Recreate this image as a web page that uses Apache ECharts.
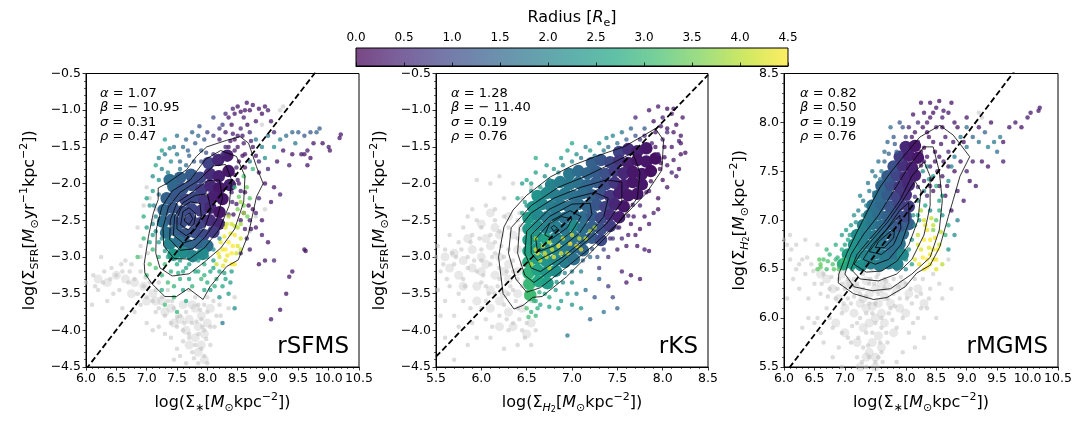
<!DOCTYPE html>
<html>
<head>
<meta charset="utf-8">
<script src="https://cdn.jsdelivr.net/npm/echarts@6/dist/echarts.min.js"></script>
<style>
html, body { margin: 0; padding: 0; background: #fff; }
#chart { width: 1080px; height: 432px; }
</style>
</head>
<body>
<div id="chart"></div>
<script>
// 拟合参数
var fitAlpha = [1.07, 1.28, 0.82];
var fitBeta = [-10.95, -11.40, 0.50];
var fitSigma = [0.31, 0.19, 0.19];
var fitRho = [0.47, 0.76, 0.76];
var panelNames = ['rSFMS', 'rKS', 'rMGMS'];
var xRange = [[6.0, 10.5], [5.5, 8.5], [6.0, 10.5]];
var yRange = [[-4.5, -0.5], [-4.5, -0.5], [5.5, 8.5]];
var radiusRange = [0, 4.5];

// rSFMS  [x, y, radius]
var sfmsCore = [
[8.02,-1.72,0.9],[8.18,-1.68,0.5],[8.33,-1.62,0.4],
[7.73,-1.88,1.3],[7.88,-1.92,1.0],[8.04,-1.87,0.6],[8.19,-1.9,0.4],[8.35,-1.83,0.3],[7.55,-1.92,1.4],[7.38,-1.95,1.6],
[7.44,-2.04,1.5],[7.59,-2.07,1.2],[7.74,-2.02,1.1],[7.9,-2.08,0.8],[8.05,-2.03,0.5],[8.2,-2.06,0.3],[8.37,-2.02,0.4],
[7.33,-2.2,1.4],[7.48,-2.17,1.2],[7.64,-2.22,1.0],[7.79,-2.19,1.0],[7.95,-2.23,0.7],[8.1,-2.18,0.4],[8.25,-2.21,0.3],
[7.28,-2.36,1.5],[7.43,-2.33,1.2],[7.58,-2.38,1.1],[7.74,-2.35,1.0],[7.9,-2.37,0.8],[8.05,-2.33,0.5],[8.2,-2.39,0.3],
[7.27,-2.52,1.6],[7.42,-2.49,1.3],[7.57,-2.53,1.1],[7.73,-2.5,1.0],[7.88,-2.54,0.9],[8.04,-2.5,0.6],[8.19,-2.55,0.5],
[7.32,-2.67,1.7],[7.48,-2.64,1.4],[7.63,-2.69,1.2],[7.79,-2.66,1.1],[7.94,-2.7,1.0],[8.1,-2.66,0.8],
[7.38,-2.82,2.0],[7.53,-2.79,1.7],[7.69,-2.84,1.5],[7.85,-2.81,1.4],[8.0,-2.85,1.6],
[7.44,-2.97,2.4],[7.6,-2.94,2.2],[7.76,-2.99,2.0],[7.92,-2.96,2.1]
];
var sfmsPts = [
[8.45,-1.55,0.3],[8.48,-1.78,0.4],[8.41,-2.25,0.5],[8.35,-2.42,0.6],
[7.25,-1.55,2.6],[7.4,-1.7,2.2],[7.5,-1.6,1.9],[7.6,-1.5,1.6],[7.7,-1.62,1.5],[7.8,-1.45,1.3],[7.9,-1.55,1.4],[7.35,-1.85,2.0],[7.2,-1.95,2.3],[7.1,-2.1,2.5],
[7.05,-2.3,2.4],[7.15,-2.45,2.0],[7.0,-2.6,2.6],[7.55,-1.8,1.8],[7.65,-1.75,1.6],[7.95,-1.4,1.2],[8.0,-1.3,0.9],[7.85,-1.35,1.6],[7.3,-1.4,2.4],[7.15,-1.75,2.7],
[8.2,-1.4,0.4],[8.3,-1.3,0.3],[8.4,-1.2,0.2],[8.45,-1.05,0.3],[8.5,-0.95,0.2],[8.6,-1.1,0.4],[8.65,-0.9,0.3],[8.7,-1.0,0.2],[8.55,-1.25,0.5],[8.35,-1.5,0.3],
[8.45,-1.4,0.2],[8.6,-1.45,0.4],[8.7,-1.3,0.6],[8.8,-1.15,0.3],[8.9,-1.05,0.2],[9.0,-1.0,0.4],[9.05,-1.15,0.3],[9.1,-1.3,0.5],[8.25,-1.2,0.8],[8.1,-1.1,1.0],
[8.95,-0.95,0.3],[8.38,-1.62,0.3],[8.52,-1.7,0.2],[8.62,-1.6,0.3],[8.42,-1.32,0.4],[8.75,-1.5,0.3],
[8.8,-1.4,1.8],[8.9,-1.5,2.0],[9.0,-1.35,1.7],[9.1,-1.5,2.2],[9.2,-1.4,1.9],[9.3,-1.35,1.6],[9.4,-1.3,1.5],[9.5,-1.3,1.4],[9.6,-1.35,1.3],[9.7,-1.3,1.2],
[9.8,-1.3,1.4],[9.85,-1.25,1.3],[9.25,-1.55,0.3],[9.4,-1.6,0.2],[9.55,-1.6,0.3],[9.35,-1.75,0.4],[9.15,-1.7,0.3],[9.0,-1.8,0.5],[8.85,-1.85,0.3],[8.95,-2.0,0.2],
[9.1,-2.05,0.3],[9.2,-2.15,0.4],[9.05,-2.25,0.3],[8.85,-2.2,0.5],[9.6,-1.6,0.3],[9.45,-1.45,1.8],[9.65,-1.55,0.4],[9.9,-1.45,0.2],[10.0,-1.5,0.3],[10.02,-1.55,0.3],
[10.2,-1.33,0.3],[10.18,-1.38,0.3],[9.6,-2.9,0.2],[9.62,-2.92,0.2],[9.4,-3.2,0.3],[9.35,-3.27,0.3],[9.3,-3.5,0.2],[9.2,-3.72,0.2],[9.05,-3.85,0.3],[9.65,-1.75,0.3],
[9.75,-1.45,0.3],[9.7,-1.65,0.2],[8.7,-1.7,1.9],[8.95,-1.65,2.3],[8.5,-1.95,0.3],[8.55,-2.1,0.4],
[8.6,-2.4,0.3],[8.7,-2.5,0.4],[8.75,-2.35,0.2],[8.8,-2.6,0.3],[8.9,-2.7,0.4],[8.65,-2.75,0.5],[8.7,-2.9,0.3],[9.0,-2.8,0.2],[8.95,-3.05,0.3],[8.85,-3.1,0.2],
[8.55,-2.95,0.6],[9.1,-3.05,0.5],[8.8,-2.4,0.4],[8.9,-2.5,0.3],
[8.5,-1.5,0.3],[8.58,-1.62,0.2],[8.62,-1.78,0.3],[8.45,-1.88,0.2],[8.52,-2.0,0.3],[8.4,-2.12,0.4],[8.62,-2.12,0.2],[8.48,-2.28,0.3],[8.68,-2.3,0.2],[8.55,-2.5,0.3],
[8.43,-2.42,0.2],[8.72,-2.62,0.3],[8.62,-2.62,0.4],[8.5,-1.35,0.4],[8.38,-1.42,0.3],[8.3,-1.5,0.5],[8.25,-1.6,0.6],[8.58,-1.35,0.3],[8.66,-1.2,0.2],[8.72,-1.42,0.4],
[8.8,-1.62,0.3],[8.85,-1.7,0.5],[8.35,-1.1,0.3],[8.55,-1.02,0.2],[8.42,-0.98,0.4],[8.75,-0.93,0.3],[8.85,-0.98,0.2],[8.62,-1.0,0.3],[8.3,-1.05,0.5],[8.2,-1.25,0.7],
[7.2,-1.65,2.0],[7.3,-1.6,1.8],[7.45,-1.5,1.7],[7.55,-1.7,1.5],[7.68,-1.55,1.4],[7.78,-1.7,1.3],[7.9,-1.7,1.1],[7.1,-1.9,2.2],[7.25,-1.8,2.0],[7.2,-2.15,1.8],
[7.12,-2.3,2.0],[7.1,-2.55,2.1],[7.15,-2.65,2.2],[7.2,-2.55,1.9],[7.05,-2.8,2.6],[7.25,-2.75,2.1],[7.3,-2.92,2.4],[7.35,-3.0,2.6],[7.55,-3.05,2.5],[7.7,-3.0,2.3],
[7.85,-3.05,2.4],[8.0,-3.0,2.3],[7.65,-1.4,1.5],[7.5,-1.35,1.8],[7.38,-1.52,2.0],[7.75,-1.3,1.4],[7.87,-1.22,1.2],[7.98,-1.58,1.1],[8.1,-1.6,0.8],[8.1,-1.35,0.8],
[8.6,-1.9,3.2],[8.65,-2.05,3.5],[8.7,-2.2,3.3],[8.55,-2.25,3.8],[8.75,-1.8,3.0],[8.6,-2.4,3.9],[8.5,-2.35,3.6],
[8.45,-2.05,3.0],[8.52,-2.18,3.4],[8.6,-2.3,3.6],[8.66,-2.45,3.5],[8.55,-2.55,3.8],
[8.3,-2.6,4.3],[8.4,-2.55,4.2],[8.45,-2.7,4.4],[8.35,-2.8,4.5],[8.5,-2.85,4.3],[8.25,-2.9,4.4],[8.4,-2.95,4.5],[8.3,-3.05,4.3],[8.2,-3.0,4.2],[8.5,-2.6,4.0],
[8.45,-3.1,4.4],[8.15,-3.1,4.1],[8.55,-2.75,4.2],[8.35,-2.45,4.0],[8.28,-2.72,4.4],[8.42,-2.85,4.5],[8.33,-2.98,4.4],
[8.22,-2.8,4.3],[8.3,-2.9,4.5],[8.38,-2.68,4.4],[8.48,-2.95,4.2],[8.26,-3.12,4.3],[8.4,-3.1,4.5],[8.55,-2.9,4.1],[8.18,-2.95,4.4],[8.32,-2.55,4.2],[8.45,-2.58,4.1],
[7.95,-3.1,2.8],[8.05,-3.2,2.7],[8.1,-3.05,2.5],[8.15,-3.3,2.9],[8.2,-3.2,2.6],[8.0,-3.35,2.8],[7.9,-3.3,3.0],[8.25,-3.4,2.7],[8.05,-3.45,2.5],[8.3,-3.3,2.6],
[8.35,-3.5,2.4],[8.2,-3.55,2.3],[8.4,-3.2,2.5],[8.1,-2.9,2.2],[8.2,-2.75,2.0],
[7.85,-3.2,2.8],[7.95,-3.25,2.9],[8.1,-3.15,2.6],[8.12,-3.4,2.8],[7.95,-3.45,2.7],[8.28,-3.22,2.6],[8.38,-3.35,2.5],[7.7,-3.3,2.7],[7.65,-3.15,2.6],[7.52,-3.22,2.8],
[7.1,-2.9,3.0],[7.2,-3.0,2.9],[7.3,-3.1,3.1],[7.15,-3.15,3.2],[7.25,-3.25,3.0],[7.4,-3.2,2.8],[7.5,-3.1,2.7],[7.6,-3.2,2.6],[7.35,-3.35,3.1],[7.45,-3.4,2.9],
[7.55,-3.3,2.8],[7.7,-3.1,2.5],[7.8,-3.2,2.7],[7.05,-3.1,3.3],[7.0,-3.25,3.1],[7.25,-3.45,2.8],[7.6,-3.45,2.6],[7.75,-3.4,2.9],[6.95,-2.75,2.9],[7.1,-2.7,2.5],
[6.85,-3.0,3.2],[7.45,-3.55,3.0],[7.5,-3.75,2.9],[7.3,-3.65,3.1],[7.65,-3.6,2.7],[7.0,-2.2,2.6],[6.95,-2.45,2.8],[8.45,-3.7,2.2],[8.25,-3.9,1.8],[7.2,-2.8,2.4]
];
var sfmsGray = [
[6.0,-3.35],[6.15,-3.4],[6.3,-3.2],[6.4,-3.3],[6.5,-3.25],[6.55,-3.45],[6.6,-3.2],[6.7,-3.35],[6.75,-3.1],[6.8,-3.3],
[6.85,-3.5],[6.9,-3.2],[6.95,-3.4],[7.0,-3.55],[7.05,-3.35],[7.1,-3.6],[7.15,-3.45],[7.2,-3.7],[7.25,-3.55],[7.3,-3.8],
[7.35,-3.6],[7.4,-3.9],[7.45,-3.7],[7.5,-3.95],[7.55,-3.8],[7.6,-4.0],[7.65,-3.75],[7.7,-4.1],[7.75,-3.9],[7.8,-4.2],
[7.85,-3.65],[7.9,-3.85],[7.95,-4.0],[8.0,-3.75],[8.05,-3.95],[7.85,-4.05],[7.9,-4.25],[7.95,-4.35],[8.0,-4.45],[7.75,-4.3],
[7.6,-4.15],[7.5,-4.25],[7.3,-4.05],[7.2,-3.95],[8.1,-3.6],[8.15,-3.8],[8.0,-3.55],[7.8,-3.55],[7.7,-3.45],[7.05,-2.2],
[7.0,-2.05],[6.95,-2.3],[7.1,-2.5],[7.15,-2.35],[6.85,-2.6],[6.9,-2.85],[6.65,-3.05],[6.45,-3.5],[6.35,-3.6],[6.2,-3.45],
[6.1,-3.65],[6.25,-3.0],[6.6,-3.7],[6.8,-3.75],[7.0,-3.9],[6.9,-3.65],[7.1,-4.0],[8.35,-3.7],[8.45,-3.55],[8.2,-3.65],
[9.2,-1.0],[9.25,-0.95],[8.9,-1.2],[8.95,-2.35],[8.8,-2.45],[8.7,-2.65],[7.85,-4.45],[7.65,-4.45],[8.05,-4.2],[7.45,-4.4],
[7.88,-3.72],[7.95,-3.65],[7.82,-3.88],[7.92,-3.95],[7.98,-4.12],[7.7,-4.05],[7.62,-3.9],[7.5,-3.82],[7.42,-3.6],[7.35,-3.45],
[7.2,-3.35],[6.98,-3.28],[6.72,-3.2],[6.58,-3.1],[6.42,-3.15],[6.28,-3.35],[6.12,-3.25],[6.9,-3.0],[7.02,-2.95],[8.12,-3.95],
[8.22,-3.8],[7.78,-4.38],[7.55,-4.35],[7.4,-4.1],[7.15,-3.75]
];
var sfmsGrayCore = [
[7.8,-3.7],[7.9,-3.8],[7.85,-3.95],[7.95,-4.05],[7.8,-4.1],[7.9,-4.2],[7.7,-3.85],[8.0,-3.9],[7.75,-3.65],
[6.5,-3.25],[6.65,-3.3],[6.8,-3.35],[6.95,-3.4],[7.1,-3.5],[7.25,-3.6],[7.4,-3.7],[7.55,-3.85],[7.65,-4.0],
[7.85,-4.3],[7.7,-4.2],[7.6,-3.65],[8.05,-3.7],[7.45,-3.9],[7.3,-3.75],[7.15,-3.6],[6.35,-3.35],[6.2,-3.3],[7.95,-4.4],
[6.75,-3.5],[7.0,-3.6]
];
var sfmsContours = [
[[6.96,-3.09],[6.97,-3.22],[7.08,-3.36],[7.3,-3.54],[7.49,-3.54],[7.69,-3.43],[7.93,-3.58],[8.04,-3.41],[8.32,-3.13],[8.51,-3.04],[8.68,-2.68],[8.81,-2.18],[8.92,-2.0],[8.81,-1.77],[8.68,-1.45],[8.54,-1.36],[8.32,-1.41],[7.99,-1.5],[7.82,-1.63],[7.66,-1.81],[7.33,-2.0],[7.19,-2.06],[7.19,-2.22],[7.11,-2.4],[7.03,-2.72]],
[[7.15,-2.95],[7.22,-3.15],[7.42,-3.26],[7.7,-3.23],[7.95,-3.07],[8.22,-2.88],[8.45,-2.62],[8.6,-2.25],[8.62,-1.9],[8.48,-1.63],[8.22,-1.55],[7.97,-1.67],[7.72,-1.95],[7.42,-2.1],[7.25,-2.32],[7.16,-2.62]],
[[7.28,-2.85],[7.45,-3.02],[7.7,-3.03],[7.96,-2.87],[8.2,-2.62],[8.36,-2.3],[8.4,-1.95],[8.3,-1.74],[8.1,-1.76],[7.85,-1.96],[7.55,-2.12],[7.36,-2.32],[7.27,-2.6]],
[[7.38,-2.76],[7.55,-2.91],[7.76,-2.89],[7.96,-2.73],[8.15,-2.5],[8.25,-2.2],[8.2,-1.95],[8.0,-1.96],[7.75,-2.12],[7.5,-2.26],[7.39,-2.5]],
[[7.44,-2.7],[7.6,-2.81],[7.8,-2.76],[7.96,-2.6],[8.06,-2.35],[8.0,-2.14],[7.8,-2.16],[7.6,-2.26],[7.46,-2.45]],
[[7.5,-2.62],[7.65,-2.71],[7.8,-2.63],[7.9,-2.45],[7.88,-2.27],[7.72,-2.25],[7.57,-2.33],[7.5,-2.47]],
[[7.56,-2.56],[7.68,-2.63],[7.78,-2.55],[7.81,-2.41],[7.7,-2.33],[7.6,-2.38]],
[[7.62,-2.51],[7.7,-2.56],[7.76,-2.48],[7.71,-2.4],[7.64,-2.44]]
];

// rKS
var ksCore = [
[7.52,-1.57,0.9],[7.62,-1.53,0.6],[7.72,-1.56,0.4],[7.82,-1.52,0.3],
[7.22,-1.72,1.4],[7.32,-1.68,1.2],[7.42,-1.71,1.0],[7.52,-1.69,0.7],[7.62,-1.72,0.4],[7.72,-1.68,0.3],[7.82,-1.7,0.3],[7.92,-1.66,0.2],
[6.97,-1.87,1.8],[7.07,-1.83,1.6],[7.17,-1.86,1.5],[7.27,-1.84,1.3],[7.37,-1.87,1.1],[7.47,-1.83,0.8],[7.57,-1.86,0.5],[7.67,-1.84,0.3],[7.77,-1.87,0.3],[7.87,-1.83,0.2],
[6.77,-2.02,2.0],[6.87,-1.98,1.9],[6.97,-2.01,1.8],[7.07,-1.99,1.7],[7.17,-2.02,1.5],[7.27,-1.98,1.3],[7.37,-2.01,1.0],[7.47,-1.99,0.7],[7.57,-2.02,0.4],[7.67,-1.98,0.3],[7.77,-2.01,0.3],
[6.62,-2.17,2.3],[6.72,-2.13,2.1],[6.82,-2.16,1.9],[6.92,-2.14,1.8],[7.02,-2.17,1.7],[7.12,-2.13,1.6],[7.22,-2.16,1.4],[7.32,-2.14,1.1],[7.42,-2.17,0.7],[7.52,-2.13,0.4],[7.62,-2.16,0.3],[7.72,-2.14,0.3],
[6.57,-2.32,2.3],[6.67,-2.28,2.1],[6.77,-2.31,1.9],[6.87,-2.29,1.8],[6.97,-2.32,1.7],[7.07,-2.28,1.6],[7.17,-2.31,1.5],[7.27,-2.29,1.2],[7.37,-2.32,0.9],[7.47,-2.28,0.5],[7.57,-2.31,0.3],
[6.52,-2.47,2.4],[6.62,-2.43,2.1],[6.72,-2.46,1.9],[6.82,-2.44,1.8],[6.92,-2.47,1.7],[7.02,-2.43,1.7],[7.12,-2.46,1.6],[7.22,-2.44,1.3],[7.32,-2.47,1.0],[7.42,-2.43,0.6],[7.52,-2.46,0.4],
[6.52,-2.62,2.4],[6.62,-2.58,2.2],[6.72,-2.61,2.0],[6.82,-2.59,1.9],[6.92,-2.62,1.8],[7.02,-2.58,2.2],[7.12,-2.61,1.7],[7.22,-2.59,1.4],[7.32,-2.62,1.1],[7.42,-2.58,0.8],
[6.52,-2.77,2.5],[6.62,-2.73,2.3],[6.72,-2.76,2.6],[6.82,-2.74,2.0],[6.92,-2.77,1.9],[7.02,-2.73,1.8],[7.12,-2.76,1.6],[7.22,-2.74,1.3],[7.32,-2.77,1.0],
[6.52,-2.92,2.6],[6.62,-2.88,2.4],[6.72,-2.91,2.2],[6.82,-2.89,2.1],[6.92,-2.92,1.9],[7.02,-2.88,1.7],[7.12,-2.91,1.5],
[6.52,-3.07,2.8],[6.62,-3.03,2.5],[6.72,-3.06,2.3],[6.82,-3.04,2.1],[6.92,-3.07,1.9],[7.02,-3.03,1.7],
[6.52,-3.22,2.9],[6.62,-3.18,2.6],[6.72,-3.21,2.4],[6.82,-3.19,2.2],
[6.53,-3.37,3.0],[6.63,-3.33,2.7],[6.73,-3.36,2.5],
[6.54,-3.52,3.1]
];
var ksPts = [
[7.92,-1.5,0.2],[8.02,-1.64,0.2],[7.97,-1.8,0.2],[7.87,-1.97,0.2],[7.82,-2.12,0.2],[7.67,-2.29,0.3],[7.62,-2.44,0.3],[7.52,-2.6,0.4],[7.42,-2.75,0.6],[7.22,-2.89,1.3],
[7.12,-3.05,1.5],[6.92,-3.22,2.0],[6.83,-3.34,2.3],[6.64,-3.48,2.8],
[6.6,-2.9,4.3],[6.7,-2.95,4.4],[6.75,-2.8,4.2],[6.85,-2.85,4.5],[6.9,-2.75,4.3],[7.0,-2.7,4.2],[7.05,-2.85,4.4],[7.15,-2.75,4.1],[6.65,-3.05,4.3],[6.8,-3.0,4.5],
[6.95,-2.95,4.2],[7.2,-2.65,4.0],[6.6,-2.75,4.0],[6.55,-3.1,4.2],[6.75,-3.15,4.1],[7.1,-2.9,4.3],[7.25,-2.6,3.9],
[6.68,-2.85,4.4],[6.78,-2.9,4.3],[6.88,-2.95,4.4],[6.98,-2.82,4.5],[7.08,-2.75,4.2],[6.72,-3.0,4.3],[6.62,-2.95,4.5],
[6.45,-2.0,2.4],[6.5,-1.95,2.7],[6.55,-2.1,2.3],[6.6,-1.85,2.5],[6.7,-1.9,2.2],[6.8,-1.8,2.3],[6.9,-1.75,2.0],[7.0,-1.7,2.1],[7.1,-1.65,1.8],[7.2,-1.55,2.4],
[6.95,-1.55,2.6],[7.3,-1.45,2.2],[7.45,-1.35,2.0],[6.6,-1.65,2.8],[6.4,-2.2,2.6],[6.48,-2.25,2.5],[7.55,-1.3,1.8],[7.65,-1.25,1.5],[7.8,-1.25,1.3],[7.4,-1.5,1.7],
[7.0,-1.45,2.7],[6.5,-2.3,2.3],[6.45,-2.4,2.5],[6.55,-2.0,2.6],[6.65,-2.05,2.4],[6.75,-1.95,2.2],[6.85,-1.85,2.1],[6.72,-1.75,2.5],[7.05,-1.6,2.2],[7.15,-1.5,2.0],
[7.25,-1.62,1.8],[7.35,-1.55,1.9],[7.5,-1.45,1.6],[7.6,-1.4,1.4],[7.7,-1.35,1.2],[7.38,-1.38,2.1],[6.88,-1.65,2.4],
[7.85,-1.0,0.3],[7.9,-1.15,0.2],[7.95,-0.95,0.3],[8.0,-1.1,0.4],[8.05,-1.25,0.2],[8.1,-1.05,0.3],[8.15,-1.2,0.2],[8.2,-1.35,0.3],[8.0,-1.4,0.5],[8.1,-1.5,0.3],
[8.2,-1.6,0.2],[8.25,-1.58,0.2],[7.95,-1.6,0.4],[8.05,-1.75,0.3],[7.9,-1.85,0.3],[8.0,-1.95,0.2],[8.1,-1.85,0.4],[7.85,-2.1,0.3],[7.95,-2.2,0.2],[7.75,-2.3,0.4],
[7.8,-2.45,0.3],[7.65,-2.55,0.2],[7.7,-2.7,0.3],[7.55,-2.75,0.5],[7.5,-2.9,0.4],[7.4,-3.0,0.6],[7.3,-3.15,0.8],[7.6,-2.85,0.3],[8.05,-1.3,0.6],[7.75,-1.4,0.7],
[7.7,-1.1,0.5],[8.12,-0.98,0.2],[7.98,-1.22,0.3],[8.18,-1.42,0.4],
[7.92,-1.3,0.3],[8.02,-1.5,0.2],[8.12,-1.68,0.3],[8.18,-1.8,0.2],[8.05,-2.05,0.3],[7.95,-2.35,0.2],[7.85,-2.55,0.3],[7.75,-2.62,0.2],[7.68,-2.45,0.3],[7.9,-2.4,0.4],
[8.15,-1.9,0.3],[8.2,-1.45,0.2],[8.22,-1.1,0.3],[8.05,-0.98,0.2],[7.88,-1.45,0.4],[7.8,-1.35,0.5],[8.12,-1.3,0.3],[7.98,-1.72,0.3],[7.72,-2.85,0.3],[7.62,-2.7,0.4],
[7.5,-2.6,0.5],[7.45,-2.75,0.6],[7.35,-2.9,0.9],[7.28,-3.0,1.2],
[7.2,-3.0,1.6],[7.3,-3.3,1.4],[7.1,-3.2,2.0],[7.0,-3.35,2.2],[6.95,-3.5,2.5],[7.15,-3.45,1.7],[7.25,-3.55,1.2],[7.4,-3.4,0.8],[7.45,-3.55,1.0],[7.55,-3.2,0.4],
[7.6,-3.35,0.3],[7.65,-3.25,0.2],[7.75,-3.3,0.3],[7.5,-3.7,1.4],[7.35,-3.75,1.8],[7.2,-3.85,1.5],[7.8,-2.9,0.3],[7.85,-2.92,0.3],[7.1,-3.7,2.3],[6.95,-4.07,1.8],
[6.85,-3.7,2.6],[6.75,-3.55,2.7],[6.6,-3.6,2.8],[6.55,-3.75,2.9],[6.6,-3.8,3.0],[6.65,-3.65,2.6],[6.5,-3.55,3.1],[6.5,-3.7,3.2],
[6.5,-3.4,3.0],[6.58,-3.6,2.9],[6.7,-3.5,2.7],[6.82,-3.45,2.4],[6.9,-3.35,2.2],[7.0,-3.2,2.0],[6.52,-3.82,3.1],[6.62,-3.7,2.8],[6.75,-3.68,2.6],[6.88,-3.6,2.4],
[7.05,-3.5,2.0],[7.0,-3.65,2.3]
];
var ksGray = [
[5.5,-3.0],[5.55,-3.2],[5.6,-2.9],[5.65,-3.4],[5.7,-3.1],[5.75,-2.8],[5.8,-3.3],[5.85,-3.0],[5.9,-2.7],[5.95,-3.2],
[6.0,-2.9],[6.05,-3.4],[6.1,-3.1],[6.15,-2.8],[6.2,-3.3],[6.25,-3.0],[6.3,-3.5],[6.35,-3.2],[6.4,-3.7],[6.45,-3.4],
[6.5,-3.9],[6.55,-3.6],[6.6,-4.0],[5.6,-3.6],[5.7,-3.8],[5.8,-3.6],[5.9,-3.9],[6.0,-3.7],[6.1,-4.1],[6.2,-3.8],
[6.3,-4.0],[6.4,-4.2],[5.95,-4.1],[5.85,-4.2],[5.7,-4.4],[6.05,-3.6],[6.15,-2.5],[6.05,-2.3],[5.95,-2.5],[6.25,-2.2],
[6.3,-2.6],[6.35,-2.0],[6.45,-2.2],[6.4,-2.75],[6.1,-2.7],[5.9,-2.35],[6.2,-2.65],[6.3,-2.9],[6.45,-3.1],[6.5,-2.95],
[6.5,-3.25],[6.35,-3.45],[6.25,-3.65],[6.15,-3.5],[6.0,-3.35],[5.8,-2.6],[5.65,-2.7],[5.75,-3.5],[5.55,-3.8],[5.6,-4.1],
[6.55,-4.2],[6.45,-4.0],[6.25,-4.25],[5.95,-1.95],[6.1,-2.0],[6.2,-1.9],[6.55,-2.05],[6.5,-2.3],[6.4,-2.5],[6.5,-2.6],
[6.0,-3.05],[6.2,-3.15],[6.15,-2.95],[5.85,-3.15],[6.35,-3.05],[6.4,-3.3],[6.6,-3.3],[6.55,-3.05],[5.52,-3.45],[5.68,-2.95],
[5.52,-2.85],[5.58,-3.1],[5.62,-3.3],[5.72,-3.0],[5.78,-2.9],[5.82,-3.4],[5.88,-2.8],[5.92,-3.05],[5.98,-2.75],[6.02,-3.25],
[6.08,-3.5],[6.12,-3.0],[6.18,-3.4],[6.22,-2.85],[6.28,-3.2],[6.32,-3.4],[6.38,-3.6],[6.42,-3.85],[6.48,-4.1],[6.35,-3.9],
[6.05,-3.85],[5.88,-3.7],[5.75,-3.95],[6.15,-2.35],[6.25,-2.45],[6.0,-2.6],[5.85,-2.45],[6.42,-2.4],[6.12,-3.95],[6.28,-3.85]
];
var ksGrayCore = [
[5.9,-2.9],[6.0,-3.0],[6.1,-2.85],[6.2,-3.0],[6.3,-3.1],[6.0,-3.2],[6.15,-3.25],[6.3,-3.3],[6.4,-3.5],[6.25,-3.5],
[6.1,-3.45],[5.95,-3.4],[6.4,-2.9],[6.35,-2.7],[6.2,-2.7],[6.05,-2.75],[5.8,-3.05],[5.75,-3.25],[6.45,-3.7],[6.3,-3.75],
[6.5,-3.35],[6.45,-2.6],[6.2,-3.6],[6.55,-3.9],
[5.7,-2.95],[5.85,-2.75],[6.0,-2.55],[6.15,-2.6],[6.3,-2.45],[5.65,-3.15],[5.8,-3.4],[5.95,-3.6],[6.1,-3.7],[6.35,-3.95],
[6.5,-4.05],[6.2,-3.95],[5.9,-3.15],[6.05,-3.1],[6.25,-3.2],[6.4,-3.2],[5.6,-3.0],[6.1,-2.4],[6.5,-2.45]
];
var ksContours = [
[[6.25,-2.59],[6.19,-3.0],[6.24,-3.5],[6.36,-3.71],[6.46,-3.66],[6.57,-3.55],[6.67,-3.54],[6.94,-3.27],[7.16,-3.0],[7.38,-2.72],[7.6,-2.41],[7.82,-2.13],[7.99,-1.82],[8.01,-1.41],[7.92,-1.25],[7.77,-1.36],[7.57,-1.5],[7.31,-1.61],[7.01,-1.75],[6.76,-1.91],[6.5,-2.16],[6.35,-2.36]],
[[6.33,-2.6],[6.3,-2.95],[6.38,-3.3],[6.5,-3.48],[6.65,-3.42],[6.9,-3.18],[7.2,-2.88],[7.5,-2.55],[7.72,-2.2],[7.75,-1.85],[7.67,-1.58],[7.45,-1.72],[7.15,-1.9],[6.85,-2.05],[6.55,-2.3]],
[[6.42,-2.6],[6.4,-2.95],[6.48,-3.25],[6.58,-3.35],[6.8,-3.15],[7.1,-2.85],[7.38,-2.55],[7.55,-2.25],[7.55,-1.98],[7.38,-1.95],[7.1,-2.05],[6.8,-2.2],[6.55,-2.4]],
[[6.5,-2.65],[6.48,-2.95],[6.55,-3.15],[6.65,-3.2],[6.9,-3.0],[7.15,-2.75],[7.35,-2.45],[7.4,-2.2],[7.25,-2.12],[7.0,-2.2],[6.75,-2.35]],
[[6.55,-2.7],[6.55,-2.95],[6.62,-3.05],[6.85,-2.9],[7.08,-2.68],[7.22,-2.42],[7.2,-2.27],[7.0,-2.28],[6.75,-2.45]],
[[6.6,-2.75],[6.62,-2.93],[6.8,-2.85],[7.0,-2.65],[7.1,-2.45],[6.98,-2.37],[6.78,-2.5]],
[[6.7,-2.7],[6.78,-2.75],[6.95,-2.6],[7.0,-2.48],[6.88,-2.45],[6.75,-2.55]],
[[6.77,-2.6],[6.8,-2.65],[6.84,-2.61],[6.8,-2.57]]
];

// rMGMS
var mgmsCore = [
[6.97,6.55,2.8],[7.12,6.56,2.5],[7.27,6.54,2.2],[7.42,6.56,2.0],[7.57,6.54,1.9],[7.72,6.56,1.9],[7.86,6.55,2.0],
[7.05,6.65,2.5],[7.2,6.66,2.2],[7.35,6.64,2.0],[7.5,6.66,1.9],[7.65,6.64,1.8],[7.8,6.66,1.7],[7.95,6.65,2.1],
[7.15,6.75,2.3],[7.3,6.76,2.0],[7.45,6.74,1.9],[7.6,6.76,1.8],[7.75,6.74,1.6],[7.9,6.76,1.7],
[7.2,6.85,2.2],[7.35,6.86,1.9],[7.5,6.84,1.8],[7.65,6.86,1.6],[7.8,6.84,1.5],[7.95,6.86,1.6],
[7.3,6.95,2.0],[7.45,6.96,1.8],[7.6,6.94,1.6],[7.75,6.96,1.4],[7.9,6.94,1.2],[8.05,6.96,1.4],
[7.4,7.05,1.8],[7.55,7.06,1.6],[7.7,7.04,1.4],[7.85,7.06,1.1],[8.0,7.04,1.0],
[7.45,7.15,1.7],[7.6,7.16,1.5],[7.75,7.14,1.2],[7.9,7.16,0.9],[8.05,7.14,0.8],
[7.55,7.25,1.6],[7.7,7.26,1.3],[7.85,7.24,0.9],[8.0,7.26,0.6],
[7.6,7.35,1.5],[7.75,7.36,1.1],[7.9,7.34,0.7],[8.05,7.36,0.5],
[7.7,7.45,1.3],[7.85,7.46,0.9],[8.0,7.44,0.5],[8.15,7.46,0.4],
[7.8,7.55,1.1],[7.95,7.56,0.6],[8.1,7.54,0.4],
[7.9,7.65,0.8],[8.05,7.66,0.4],[8.2,7.64,0.3],
[8.0,7.75,0.5],[8.15,7.76,0.3]
];
var mgmsPts = [
[8.15,7.24,0.7],[8.2,7.34,0.6],[8.25,7.56,0.3],[8.3,7.74,0.2],
[8.3,8.1,0.3],[8.4,8.2,0.2],[8.5,8.15,0.3],[8.55,8.22,0.2],[8.6,8.05,0.4],[8.7,8.1,0.3],[8.75,8.2,0.2],[8.8,8.0,0.3],[8.5,7.95,0.5],[8.35,7.9,0.2],
[8.45,7.8,0.3],[8.65,7.85,0.4],[8.2,8.0,0.6],[8.1,7.85,0.3],[8.25,7.7,0.2],[8.55,7.65,0.3],[8.7,7.7,0.5],[8.4,7.55,0.4],[8.6,7.45,0.3],[8.8,7.5,0.2],
[8.3,7.4,0.4],[8.45,7.3,0.3],[8.65,7.25,0.2],[8.75,7.1,0.3],[8.85,7.3,0.4],[8.9,7.6,0.3],[8.95,7.8,0.2],[9.0,8.05,0.3],[8.25,8.2,0.3],[7.95,7.95,1.2],
[8.0,7.85,0.9],[8.4,8.05,0.3],[8.6,7.95,0.2],[8.35,7.65,0.3],[8.48,7.6,0.2],
[8.15,7.9,0.3],[8.28,7.95,0.2],[8.38,7.85,0.3],[8.48,7.7,0.2],[8.58,7.78,0.3],[8.3,7.6,0.4],[8.42,7.42,0.3],[8.52,7.5,0.2],[8.62,7.6,0.4],[8.7,7.55,0.3],
[8.78,7.8,0.3],[8.85,7.95,0.2],[8.62,8.12,0.3],[8.45,8.1,0.2],[8.35,8.0,0.4],[8.2,7.8,0.3],[8.05,7.95,0.5],[8.12,8.08,0.3],[8.68,7.35,0.3],[8.55,7.35,0.2],
[8.35,7.25,0.5],[8.4,7.35,0.4],
[9.0,7.75,1.8],[9.1,7.85,1.5],[9.2,7.8,1.7],[9.3,7.9,1.4],[9.35,7.75,2.0],[9.45,7.8,1.8],[9.5,7.7,1.6],[9.55,7.85,1.9],[9.6,7.8,0.3],[9.2,7.95,0.3],
[9.4,8.0,0.2],[9.7,7.95,0.3],[9.8,8.0,0.3],[9.9,7.95,0.2],[10.0,8.05,0.3],[10.05,8.1,0.3],[10.2,8.15,0.3],[10.18,8.12,0.3],[9.1,7.6,0.4],[9.25,7.6,0.3],
[9.0,7.5,0.4],[9.05,7.4,0.2],[8.95,7.2,0.3],[9.15,7.35,0.3],[9.35,7.55,0.3],[9.6,7.6,0.4],[9.0,7.95,1.6],[8.9,7.85,1.8],
[8.35,7.55,2.3],[8.45,7.45,2.5],[8.5,7.35,2.8],[8.55,7.2,2.6],[8.6,7.05,2.4],[8.7,6.95,2.7],[8.65,6.85,2.9],[8.5,7.0,3.2],[8.4,7.1,2.2],[8.45,6.9,3.6],
[8.2,7.2,2.2],[8.3,7.3,2.0],[8.38,7.42,2.4],[8.28,7.5,2.1],[8.12,7.05,2.3],[8.22,7.0,2.5],[8.32,7.15,2.6],[8.55,7.1,2.8],[8.6,7.25,2.5],[8.7,7.4,2.2],
[8.75,7.55,2.0],[8.8,7.65,1.8],
[8.3,7.0,4.2],[8.35,6.9,4.4],[8.4,6.8,4.5],[8.45,6.7,4.3],[8.5,6.6,4.4],[8.35,6.6,4.5],[8.25,6.7,4.3],[8.3,6.5,4.4],[8.55,6.75,4.2],[8.4,6.55,4.3],
[8.2,6.85,4.1],[8.25,7.1,3.9],[8.45,6.95,4.1],[8.6,6.55,4.0],[8.15,6.6,4.3],[8.3,6.8,4.5],[8.4,6.65,4.4],
[8.22,6.55,4.4],[8.28,6.62,4.5],[8.38,6.72,4.3],[8.48,6.82,4.4],[8.32,6.95,4.3],[8.42,7.02,4.1],[8.52,6.7,4.5],[8.45,6.6,4.4],[8.2,6.75,4.2],[8.58,6.88,4.0],
[8.35,6.52,4.5],[8.5,6.5,4.3],
[6.55,6.5,3.3],[6.6,6.55,3.4],[6.7,6.5,3.1],[6.8,6.55,3.2],[6.85,6.6,3.0],[6.9,6.5,3.3],[6.75,6.65,2.9],[6.95,6.7,2.8],[7.0,6.6,3.1],[6.65,6.6,3.2],
[7.05,6.8,2.7],[6.95,6.85,2.5],[7.1,6.95,2.4],[7.25,7.25,2.0],[7.15,7.05,2.3],
[6.6,6.52,3.4],[6.72,6.58,3.2],[6.82,6.5,3.3],[6.95,6.58,3.1],[6.58,6.6,3.3],[6.7,6.7,3.0],[6.85,6.75,2.8],[7.02,6.9,2.5],
[7.4,7.3,1.8],[7.5,7.45,1.9],[7.55,7.6,1.7],[7.65,7.7,1.6],[7.7,7.8,1.5],[7.8,7.85,1.3],[7.85,7.7,1.4],[7.6,7.5,1.9],[7.35,7.15,2.0],[7.3,7.05,2.1],
[7.75,7.95,1.6],[7.9,8.0,1.2],
[7.0,6.75,2.6],[7.08,6.85,2.4],[7.18,6.98,2.2],[7.22,7.1,2.0],[7.3,7.2,1.9],[7.38,7.38,1.8],[7.45,7.5,1.7],[7.48,7.28,1.8],[7.58,7.42,1.7],[7.65,7.6,1.5],
[7.72,7.68,1.4],[7.82,7.78,1.3],[7.28,6.58,2.3],[7.12,6.5,2.5],[7.0,6.52,2.7],[6.88,6.62,2.9],
[7.9,6.55,2.0],[8.0,6.6,2.2],[8.05,6.7,2.4],[8.1,6.8,2.5],[8.15,6.95,2.3],[8.0,6.5,2.1],[7.85,6.5,1.9],[8.2,7.05,2.6],[8.1,6.55,2.6],
[8.7,6.7,2.3],[8.8,6.85,2.1],[8.85,7.0,1.9]
];
var mgmsGray = [
[6.0,6.8],[6.05,6.75],[6.1,6.6],[6.15,6.4],[6.2,6.5],[6.25,6.3],[6.3,6.6],[6.35,6.45],[6.4,6.2],[6.45,6.55],
[6.5,6.35],[6.55,6.0],[6.6,6.25],[6.65,6.45],[6.7,6.1],[6.75,6.3],[6.8,5.9],[6.85,6.2],[6.9,6.4],[6.95,6.05],
[7.0,6.3],[7.05,5.8],[7.1,6.15],[7.15,6.4],[7.2,5.95],[7.25,6.25],[7.3,5.7],[7.35,6.05],[7.4,6.35],[7.45,5.85],
[7.5,6.15],[7.55,5.6],[7.6,6.0],[7.65,6.3],[7.7,5.75],[7.75,6.1],[7.8,6.4],[7.85,5.9],[7.9,6.2],[7.95,6.0],
[8.0,6.35],[8.05,5.85],[8.1,6.15],[8.15,6.4],[8.2,6.0],[8.25,6.25],[8.3,5.8],[8.35,6.1],[8.4,6.3],[8.5,6.0],
[8.6,6.2],[7.35,5.5],[7.5,5.55],[7.6,5.65],[7.2,5.6],[7.1,5.75],[6.9,5.7],[6.8,5.6],[7.45,6.5],[7.55,6.45],
[7.3,6.45],[7.0,6.5],[6.75,6.0],[6.6,5.85],[6.5,5.95],[6.4,6.0],[7.4,6.15],[7.55,6.25],[7.7,6.2],[7.25,6.0],
[7.45,6.05],[7.6,5.9],[7.35,5.85],[7.5,5.95],[7.65,6.4],[7.8,6.25],[7.2,6.35],[7.05,6.2],[6.95,6.35],[8.45,6.45],
[8.7,6.6],[8.75,6.3],[6.2,6.75],[6.35,6.8],[6.1,6.85],[9.25,8.05],[9.2,8.1],[7.4,5.6],[7.95,5.65],[8.15,5.7],
[6.65,5.75],[7.85,5.55],[6.95,5.5],[6.05,6.2],[6.3,5.9],[8.55,6.35],[6.55,6.75],
[7.3,6.3],[7.35,6.22],[7.42,6.4],[7.48,6.35],[7.52,6.42],[7.6,6.28],[7.68,6.38],[7.72,6.05],[7.82,6.12],[7.88,6.32],
[7.92,6.42],[8.02,6.2],[8.08,6.3],[8.18,6.22],[8.28,6.4],[7.15,6.22],[7.05,6.4],[6.98,6.15],[6.88,6.3],[6.78,6.42],
[6.72,6.22],[7.22,5.8],[7.38,5.72],[7.58,5.75],[7.62,5.55],[7.28,5.55],[7.12,5.92],[6.95,5.85],[7.68,5.85],[7.78,5.98],
[8.12,5.95],[8.25,6.1],[8.38,6.2],[6.62,6.35],[6.48,6.48],[6.38,6.62],[6.25,6.55],[6.12,6.7]
];
var mgmsGrayCore = [
[7.3,6.2],[7.4,6.25],[7.5,6.3],[7.6,6.35],[7.35,6.1],[7.45,6.12],[7.55,6.15],[7.65,6.22],[7.4,5.95],[7.5,6.0],
[7.3,5.9],[7.55,5.82],[7.45,5.75],[7.6,6.05],[7.7,6.32],[7.25,6.15],[7.2,6.3],[7.15,6.05],[7.75,6.15],[7.85,6.3],
[7.95,6.35],[7.1,6.35],[7.35,6.38],[7.65,5.95],[7.4,5.65],[7.5,5.6],
[6.8,6.3],[6.9,6.2],[7.0,6.1],[7.05,6.35],[6.95,6.45],[6.7,6.4],[6.6,6.45],[7.2,5.75],[7.35,5.6],[7.6,5.7],
[7.8,5.85],[7.9,6.1],[8.05,6.25],[8.2,6.3],[8.3,6.15],[7.25,5.5],[7.5,5.5],[6.85,5.95],[7.0,5.85],[8.0,6.05]
];
var mgmsContours = [
[[6.89,6.36],[7.14,6.25],[7.47,6.19],[7.69,6.21],[7.99,6.32],[8.18,6.46],[8.4,6.54],[8.56,6.73],[8.7,7.04],[8.78,7.21],[8.89,7.45],[9.05,7.65],[8.78,7.87],[8.56,7.97],[8.23,7.85],[7.96,7.65],[7.74,7.48],[7.58,7.34],[7.41,7.14],[7.19,6.87],[7.03,6.66],[6.9,6.45]],
[[7.0,6.45],[7.15,6.32],[7.45,6.28],[7.75,6.3],[8.1,6.45],[8.4,6.62],[8.55,6.9],[8.6,7.2],[8.55,7.5],[8.45,7.75],[8.3,7.75],[8.05,7.55],[7.8,7.3],[7.55,7.05],[7.3,6.85],[7.1,6.65]],
[[7.1,6.5],[7.25,6.4],[7.55,6.38],[7.85,6.45],[8.1,6.6],[8.3,6.85],[8.4,7.15],[8.4,7.45],[8.3,7.6],[8.1,7.45],[7.9,7.2],[7.65,6.98],[7.4,6.8],[7.2,6.65]],
[[7.15,6.55],[7.35,6.47],[7.6,6.48],[7.85,6.58],[8.05,6.75],[8.2,7.0],[8.25,7.3],[8.15,7.4],[7.95,7.2],[7.7,6.98],[7.45,6.8],[7.25,6.65]],
[[7.3,6.6],[7.5,6.55],[7.72,6.6],[7.92,6.75],[8.05,6.98],[8.05,7.18],[7.9,7.1],[7.7,6.92],[7.45,6.75]],
[[7.4,6.68],[7.6,6.65],[7.8,6.75],[7.92,6.92],[7.9,7.05],[7.72,6.93],[7.52,6.78]],
[[7.5,6.72],[7.65,6.72],[7.8,6.82],[7.82,6.92],[7.68,6.85],[7.55,6.78]]
];

var viridis = ['#440154','#482475','#414487','#355f8d','#2a788e','#21918c','#22a884','#44bf70','#7ad151','#bddf26','#fde725'];
var FONT = 'DejaVu Sans';

var coreSets = [sfmsCore, ksCore, mgmsCore];
var ptSets = [sfmsPts, ksPts, mgmsPts];
var graySets = [sfmsGray, ksGray, mgmsGray];
var grayCoreSets = [sfmsGrayCore, ksGrayCore, mgmsGrayCore];
var contourSets = [sfmsContours, ksContours, mgmsContours];

var gridPos = [
    { left: 86, top: 73.5, width: 273, height: 293.5 },
    { left: 436, top: 73.5, width: 272, height: 293.5 },
    { left: 784, top: 73.5, width: 274, height: 293.5 }
];

function fmt(v) {
    return v.toFixed(1).replace('-', '\u2212');
}

var nameRich = {
    n: { fontFamily: FONT, fontSize: 16, color: '#000', lineHeight: 22 },
    i: { fontFamily: FONT, fontSize: 16, fontStyle: 'italic', color: '#000', lineHeight: 22 },
    s: { fontFamily: FONT, fontSize: 11, color: '#000', lineHeight: 11, verticalAlign: 'bottom' },
    si: { fontFamily: FONT, fontSize: 11, fontStyle: 'italic', color: '#000', lineHeight: 11, verticalAlign: 'bottom' },
    ss: { fontFamily: FONT, fontSize: 8, color: '#000', lineHeight: 8, verticalAlign: 'bottom' },
    p: { fontFamily: FONT, fontSize: 11, color: '#000', lineHeight: 12, verticalAlign: 'top' }
};
var xNames = [
    '{n|log(Σ}{s|∗}{n|[}{i|M}{s|⊙}{n|kpc}{p|−2}{n|])}',
    '{n|log(Σ}{si|H}{ss|2}{n|[}{i|M}{s|⊙}{n|kpc}{p|−2}{n|])}',
    '{n|log(Σ}{s|∗}{n|[}{i|M}{s|⊙}{n|kpc}{p|−2}{n|])}'
];
var yNames = [
    '{n|log(Σ}{s|SFR}{n|[}{i|M}{s|⊙}{n|yr}{p|−1}{n|kpc}{p|−2}{n|])}',
    '{n|log(Σ}{s|SFR}{n|[}{i|M}{s|⊙}{n|yr}{p|−1}{n|kpc}{p|−2}{n|])}',
    '{n|log(Σ}{si|H}{ss|2}{n|[}{i|M}{s|⊙}{n|kpc}{p|−2}{n|])}'
];
var yNameGap = [45, 45, 33];

function axis(gridIndex, range, name, gap, isY) {
    return {
        type: 'value', gridIndex: gridIndex, min: range[0], max: range[1], interval: 0.5,
        name: name, nameLocation: 'middle', nameGap: gap, nameRotate: isY ? 90 : 0,
        nameTextStyle: { rich: nameRich },
        axisLine: { show: true, onZero: false, lineStyle: { color: '#000', width: 1 } },
        axisTick: { show: true, inside: false, length: 3.5, lineStyle: { color: '#000', width: 0.8 } },
        minorTick: { show: true, splitNumber: 5, length: 2, lineStyle: { color: '#000', width: 0.6 } },
        splitLine: { show: false },
        axisLabel: { fontFamily: FONT, fontSize: 12.5, color: '#000', margin: 5, formatter: fmt }
    };
}

var grids = [], xAxes = [], yAxes = [], series = [], colorIdx = [], graphics = [];
var statX = [100, 451, 800];

for (var p = 0; p < 3; p++) {
    grids.push(Object.assign({ show: true, borderColor: '#000', borderWidth: 1, containLabel: false }, gridPos[p]));
    xAxes.push(axis(p, xRange[p], xNames[p], 25, false));
    yAxes.push(axis(p, yRange[p], yNames[p], yNameGap[p], true));

    series.push({ type: 'scatter', xAxisIndex: p, yAxisIndex: p, data: grayCoreSets[p], symbolSize: 9,
        itemStyle: { color: '#bdbdbd', opacity: 0.35 }, silent: true, z: 1 });
    series.push({ type: 'scatter', xAxisIndex: p, yAxisIndex: p, data: graySets[p], symbolSize: 4.5,
        itemStyle: { color: '#bcbcbc', opacity: 0.5 }, silent: true, z: 1 });
    colorIdx.push(series.length);
    series.push({ type: 'scatter', xAxisIndex: p, yAxisIndex: p, data: coreSets[p], symbolSize: 12.5,
        itemStyle: { opacity: 1 }, silent: true, z: 2 });
    colorIdx.push(series.length);
    series.push({ type: 'scatter', xAxisIndex: p, yAxisIndex: p, data: ptSets[p], symbolSize: 4.5,
        itemStyle: { opacity: 0.75 }, silent: true, z: 3 });

    contourSets[p].forEach(function (c) {
        series.push({ type: 'line', xAxisIndex: p, yAxisIndex: p, data: c.concat([c[0]]), symbol: 'none',
            lineStyle: { color: '#000', width: 0.8 }, silent: true, z: 4 });
    });

    var x0 = xRange[p][0], x1 = xRange[p][1];
    series.push({ type: 'line', xAxisIndex: p, yAxisIndex: p, symbol: 'none', silent: true, z: 5,
        data: [[x0, fitAlpha[p] * x0 + fitBeta[p]], [x1, fitAlpha[p] * x1 + fitBeta[p]]],
        lineStyle: { color: '#000', width: 1.8, type: [6, 3] } });

    var b = fitBeta[p] < 0 ? '\u2212 ' + Math.abs(fitBeta[p]).toFixed(2) : fitBeta[p].toFixed(2);
    graphics.push({
        type: 'text', x: statX[p], y: 86, z: 10,
        style: {
            text: '{g|α} = ' + fitAlpha[p].toFixed(2) + '\n{g|β} = ' + b + '\n{g|σ} = ' + fitSigma[p].toFixed(2) + '\n{g|ρ} = ' + fitRho[p].toFixed(2),
            fontFamily: FONT, fontSize: 13, lineHeight: 14.5, fill: '#000',
            rich: { g: { fontFamily: FONT, fontSize: 13, fontStyle: 'italic', lineHeight: 14.5 } }
        }
    });
    graphics.push({
        type: 'text', x: gridPos[p].left + gridPos[p].width - 10, y: 347, z: 10,
        style: { text: panelNames[p], fontFamily: FONT, fontSize: 23, fill: '#000',
            align: 'right', verticalAlign: 'middle', textAlign: 'right', textVerticalAlign: 'middle' }
    });
}

// colorbar
grids.push({ left: 356, top: 48, width: 432, height: 18, show: true, borderColor: '#000', borderWidth: 1 });
xAxes.push({
    type: 'value', gridIndex: 3, position: 'top', min: radiusRange[0], max: radiusRange[1], interval: 0.5,
    axisLine: { show: true, lineStyle: { color: '#000', width: 1 } },
    axisTick: { show: true, inside: false, length: 3.5, lineStyle: { color: '#000', width: 0.8 } },
    splitLine: { show: false },
    axisLabel: { fontFamily: FONT, fontSize: 12, color: '#000', margin: 4, formatter: fmt }
});
yAxes.push({ type: 'value', gridIndex: 3, min: 0, max: 1, show: false });

var stops = viridis.map(function (c, k) { return { offset: k / (viridis.length - 1), color: c }; });
graphics.push({
    type: 'rect', shape: { x: 356, y: 48, width: 432, height: 18 }, z: -1,
    style: { fill: new echarts.graphic.LinearGradient(0, 0, 1, 0, stops), opacity: 0.72 }
});
graphics.push({
    type: 'text', x: 572, y: 18, z: 10,
    style: {
        text: '{n|Radius [}{i|R}{s|e}{n|]}', align: 'center', verticalAlign: 'middle',
        textAlign: 'center', textVerticalAlign: 'middle',
        rich: nameRich
    }
});

var chart = echarts.init(document.getElementById('chart'));
chart.setOption({
    animation: false,
    backgroundColor: '#fff',
    grid: grids,
    xAxis: xAxes,
    yAxis: yAxes,
    visualMap: {
        type: 'continuous', show: false, min: radiusRange[0], max: radiusRange[1], dimension: 2,
        seriesIndex: colorIdx, inRange: { color: viridis }
    },
    graphic: graphics,
    series: series
});
</script>
</body>
</html>
